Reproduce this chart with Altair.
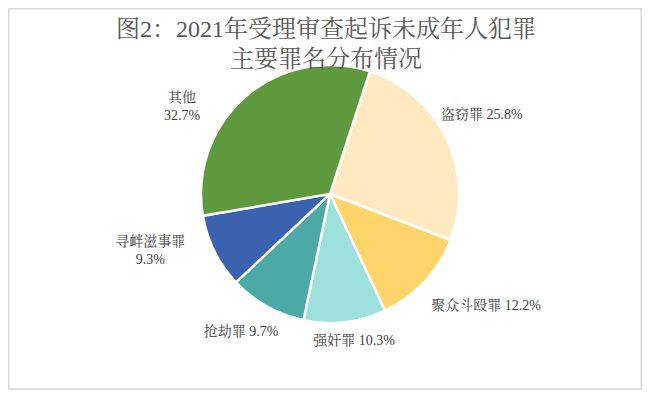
import math
import altair as alt
import pandas as pd

# ---- data ----
CATEGORIES = ["盗窃罪", "聚众斗殴罪", "强奸罪", "抢劫罪", "寻衅滋事罪", "其他"]
SHARES = [25.8, 12.2, 10.3, 9.7, 9.3, 32.7]
COLORS = ["#FFE9C1", "#FFD56B", "#9DE0DD", "#4BAAA6", "#3A62AE", "#5F993D"]
TITLE_LINES = ["图2：2021年受理审查起诉未成年人犯罪", "主要罪名分布情况"]
TWO_LINE = {"寻衅滋事罪", "其他"}

# label nudges (style, in px) relative to the theta-based anchor
NUDGE = {
    "盗窃罪": (3, -8),
    "聚众斗殴罪": (35, 0),
    "强奸罪": (5, -17),
    "抢劫罪": (-8, -6),
    "寻衅滋事罪": (-32, -26),
    "其他": (-40, 29),
}

labels = [
    (f"{c}\n{v}%" if c in TWO_LINE else f"{c} {v}%")
    for c, v in zip(CATEGORIES, SHARES)
]
df = pd.DataFrame(
    {"cat": CATEGORIES, "share": SHARES, "label": labels, "idx": range(len(CATEGORIES))}
)
title_df = pd.DataFrame({"line": list(range(len(TITLE_LINES))), "text": TITLE_LINES})

FONT = "Times New Roman, Liberation Serif, Noto Serif CJK SC, Noto Sans CJK SC, serif"
start = math.radians(18)
TOTAL = sum(SHARES)
theta_scale = alt.Scale(domain=[0, TOTAL], range=[start, start + 2 * math.pi])

pie = (
    alt.Chart(df)
    .mark_arc(radius=129, stroke="white", strokeWidth=2.5)
    .encode(
        theta=alt.Theta("share:Q", stack=True, scale=theta_scale),
        order=alt.Order("idx:Q"),
        color=alt.Color(
            "cat:N",
            scale=alt.Scale(domain=CATEGORIES, range=COLORS),
            legend=None,
        ),
    )
)

label_base = (
    alt.Chart(df)
    .transform_stack(
        stack="share", groupby=[], sort=[alt.SortField("idx")], as_=["s0", "s1"]
    )
    .transform_calculate(mid="(datum.s0 + datum.s1) / 2")
)

label_layers = []
for c in CATEGORIES:
    dx, dy = NUDGE[c]
    label_layers.append(
        label_base.transform_filter(alt.datum.cat == c)
        .mark_text(
            radius=165,
            dx=dx,
            dy=dy,
            font=FONT,
            fontSize=14,
            color="#404040",
            lineBreak="\n",
            lineHeight=18,
            align="center",
            baseline="middle",
        )
        .encode(
            theta=alt.Theta("mid:Q", stack=None, scale=theta_scale),
            text="label:N",
        )
    )

# chart title (two centred lines above the pie)
title_layers = []
for i, ypos in enumerate([-48, -18]):
    title_layers.append(
        alt.Chart(title_df)
        .transform_filter(alt.datum.line == i)
        .mark_text(
            font=FONT,
            fontSize=24,
            color="#595959",
            align="center",
            baseline="middle",
        )
        .encode(x=alt.value(308), y=alt.value(ypos), text="text:N")
    )

# the outer frame of the chart area
frame = (
    alt.Chart(title_df)
    .transform_filter(alt.datum.line == 0)
    .mark_rect(fill="transparent", stroke="#D9D9D9", strokeWidth=1.5)
    .encode(
        x=alt.value(-9.25),
        x2=alt.value(623.25),
        y=alt.value(-69.25),
        y2=alt.value(311),
    )
)

chart = (
    alt.layer(frame, pie, *label_layers, *title_layers)
    .properties(
        width=624,
        height=232,
        padding={"left": 10, "top": 70, "right": 0, "bottom": 83},
        autosize=alt.AutoSizeParams(type="none"),
        background="white",
    )
    .configure_view(stroke="transparent", strokeWidth=0)
)

chart.save("out.html", embed_options={"renderer": "svg", "actions": False})
